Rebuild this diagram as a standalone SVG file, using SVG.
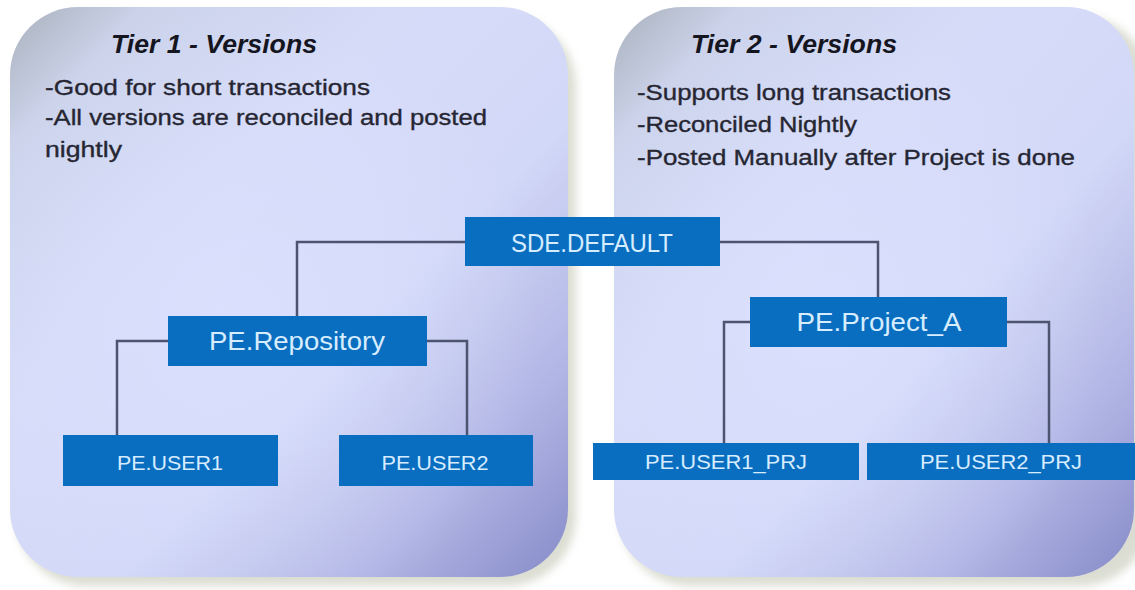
<svg xmlns="http://www.w3.org/2000/svg" width="1135" height="590" viewBox="0 0 1135 590">
  <defs>
    <linearGradient id="panelFill" x1="0" y1="0" x2="1" y2="1">
      <stop offset="0" stop-color="#a9b1bb"/>
      <stop offset="0.12" stop-color="#cbd2ea"/>
      <stop offset="0.35" stop-color="#d6dcf8"/>
      <stop offset="0.6" stop-color="#d2d8f7"/>
      <stop offset="0.82" stop-color="#b0b4e4"/>
      <stop offset="1" stop-color="#878bc8"/>
    </linearGradient>
    <radialGradient id="panelGlow" cx="0.4" cy="0.55" r="0.55">
      <stop offset="0" stop-color="#dde3ff" stop-opacity="0.7"/>
      <stop offset="1" stop-color="#dde3ff" stop-opacity="0"/>
    </radialGradient>
    <filter id="soft" x="-10%" y="-10%" width="120%" height="120%">
      <feGaussianBlur stdDeviation="4"/>
    </filter>
    <style>
      .panel { fill: url(#panelFill); }
      .glow { fill: url(#panelGlow); }
      .shadow { fill: #c4c8b6; opacity: 0.6; }
      .title { font-family: "Liberation Sans", Arial, sans-serif; font-weight: bold; font-style: italic; font-size: 25px; fill: #15151f; }
      .note { font-family: "Liberation Sans", Arial, sans-serif; font-size: 22px; fill: #262633; stroke: #262633; stroke-width: 0.35; }
      .box { fill: #0a6ec0; }
      .label { font-family: "Liberation Sans", Arial, sans-serif; fill: #d6ecff; text-anchor: middle; }
      .big { font-size: 25px; }
      .small { font-size: 21px; }
      .wire { fill: none; stroke: #4c5470; stroke-width: 2.5; }
    </style>
  </defs>

  <rect width="1135" height="590" fill="#ffffff"/>

  <!-- Tier 1 panel -->
  <g id="tier1">
    <rect class="shadow" x="16" y="16" width="560" height="570" rx="70" filter="url(#soft)"/>
    <rect class="panel" x="10" y="7" width="558" height="570" rx="68"/>
    <rect class="glow" x="10" y="7" width="558" height="570" rx="68"/>
    <text class="title" x="111" y="53" textLength="206" lengthAdjust="spacingAndGlyphs">Tier 1 - Versions</text>
    <text class="note" x="45" y="95" textLength="325" lengthAdjust="spacingAndGlyphs">-Good for short transactions</text>
    <text class="note" x="45" y="125" textLength="442" lengthAdjust="spacingAndGlyphs">-All versions are reconciled and posted</text>
    <text class="note" x="45" y="157" textLength="77" lengthAdjust="spacingAndGlyphs">nightly</text>
  </g>

  <!-- Tier 2 panel -->
  <g id="tier2">
    <rect class="shadow" x="620" y="16" width="530" height="570" rx="70" filter="url(#soft)"/>
    <rect class="panel" x="614" y="7" width="520" height="570" rx="68"/>
    <rect class="glow" x="614" y="7" width="520" height="570" rx="68"/>
    <text class="title" x="691" y="53" textLength="206" lengthAdjust="spacingAndGlyphs">Tier 2 - Versions</text>
    <text class="note" x="637" y="100" textLength="314" lengthAdjust="spacingAndGlyphs">-Supports long transactions</text>
    <text class="note" x="637" y="132" textLength="220" lengthAdjust="spacingAndGlyphs">-Reconciled Nightly</text>
    <text class="note" x="637" y="165" textLength="438" lengthAdjust="spacingAndGlyphs">-Posted Manually after Project is done</text>
  </g>

  <!-- connectors -->
  <g id="connectors">
    <path class="wire" d="M465 242 H297 V316"/>
    <path class="wire" d="M720 242 H878 V297"/>
    <path class="wire" d="M168 341 H117 V435"/>
    <path class="wire" d="M427 341 H467 V435"/>
    <path class="wire" d="M750 322 H724 V443"/>
    <path class="wire" d="M1007 322 H1049 V443"/>
  </g>

  <g id="sde-default">
    <rect class="box" x="465" y="217" width="255" height="49"/>
    <text class="label big" x="592" y="252" textLength="162" lengthAdjust="spacingAndGlyphs">SDE.DEFAULT</text>
  </g>

  <g id="pe-repository">
    <rect class="box" x="168" y="316" width="259" height="50"/>
    <text class="label big" x="297" y="350" textLength="176" lengthAdjust="spacingAndGlyphs">PE.Repository</text>
  </g>

  <g id="pe-user1">
    <rect class="box" x="63" y="435" width="215" height="51"/>
    <text class="label small" x="170" y="470" textLength="106" lengthAdjust="spacingAndGlyphs">PE.USER1</text>
  </g>

  <g id="pe-user2">
    <rect class="box" x="339" y="435" width="194" height="51"/>
    <text class="label small" x="435" y="470" textLength="107" lengthAdjust="spacingAndGlyphs">PE.USER2</text>
  </g>

  <g id="pe-project-a">
    <rect class="box" x="750" y="297" width="257" height="50"/>
    <text class="label big" x="879" y="331" textLength="165" lengthAdjust="spacingAndGlyphs">PE.Project_A</text>
  </g>

  <g id="pe-user1-prj">
    <rect class="box" x="593" y="443" width="266" height="37"/>
    <text class="label small" x="726" y="469" textLength="162" lengthAdjust="spacingAndGlyphs">PE.USER1_PRJ</text>
  </g>

  <g id="pe-user2-prj">
    <rect class="box" x="867" y="443" width="268" height="37"/>
    <text class="label small" x="1001" y="469" textLength="162" lengthAdjust="spacingAndGlyphs">PE.USER2_PRJ</text>
  </g>
</svg>
